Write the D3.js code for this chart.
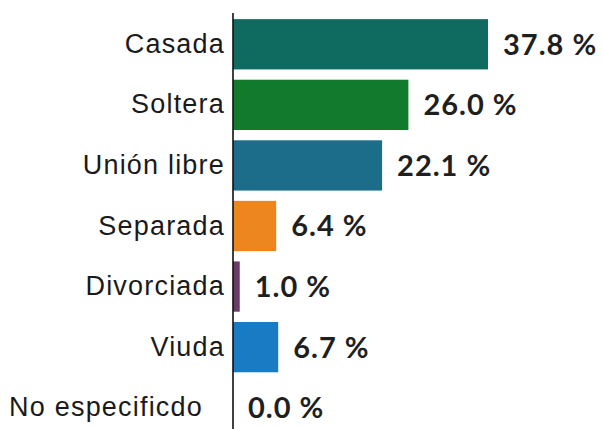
<!DOCTYPE html>
<html>
<head>
<meta charset="utf-8">
<script src="https://cdn.jsdelivr.net/npm/d3@7"></script>
<style>
  html, body { margin: 0; padding: 0; background: #fff; }
  svg { display: block; }
</style>
</head>
<body>
<svg id="chart" width="604" height="429"></svg>
<script>
const categories = ["Casada", "Soltera", "Unión libre", "Separada", "Divorciada", "Viuda", "No especificdo"];
const values = [37.8, 26.0, 22.1, 6.4, 1.0, 6.7, 0.0];
const valueLabels = ["37.8 %", "26.0 %", "22.1 %", "6.4 %", "1.0 %", "6.7 %", "0.0 %"];
const colors = ["#0f6b60", "#117a2c", "#1b6d8a", "#ee8620", "#6a3b69", "#1a7bc5", "#888888"];

const svg = d3.select("#chart");
const axisX = 233;

const x = d3.scaleLinear().domain([0, 37.8]).range([axisX, 488]);
const y = d3.scaleBand().domain(categories).range([14, 438]).paddingInner(0.17).paddingOuter(0.085);

const data = categories.map((c, i) => ({ c, v: values[i], label: valueLabels[i], color: colors[i] }));

svg.selectAll("rect.bar").data(data).join("rect")
  .attr("class", "bar")
  .attr("x", x(0))
  .attr("y", d => y(d.c))
  .attr("width", d => x(d.v) - x(0))
  .attr("height", y.bandwidth())
  .attr("fill", d => d.color);

// category axis
const yAxis = d3.axisLeft(y).tickSize(0).tickPadding(8);
const gAxis = svg.append("g").attr("transform", `translate(${axisX},0)`).call(yAxis);
gAxis.select(".domain").remove();
gAxis.selectAll("text")
  .attr("font-family", "'Liberation Sans', Arial, sans-serif")
  .attr("font-size", 27)
  .attr("letter-spacing", "1.2px")
  .attr("fill", "#1a1a1a");
gAxis.selectAll(".tick").filter(d => d === "No especificdo").select("text").attr("dx", -22);

svg.append("line")
  .attr("x1", axisX).attr("x2", axisX)
  .attr("y1", 13).attr("y2", 429)
  .attr("stroke", "#111").attr("stroke-width", 1.6);

svg.selectAll("text.val").data(data).join("text")
  .attr("class", "val")
  .attr("x", d => x(d.v) + 15)
  .attr("y", d => y(d.c) + y.bandwidth() / 2)
  .attr("dy", "0.36em")
  .attr("font-family", "Lato, 'Open Sans', sans-serif")
  .attr("font-weight", "bold")
  .attr("font-size", 29)
  .attr("letter-spacing", "1px")
  .attr("fill", "#1f1f1f")
  .text(d => d.label);
</script>
</body>
</html>
